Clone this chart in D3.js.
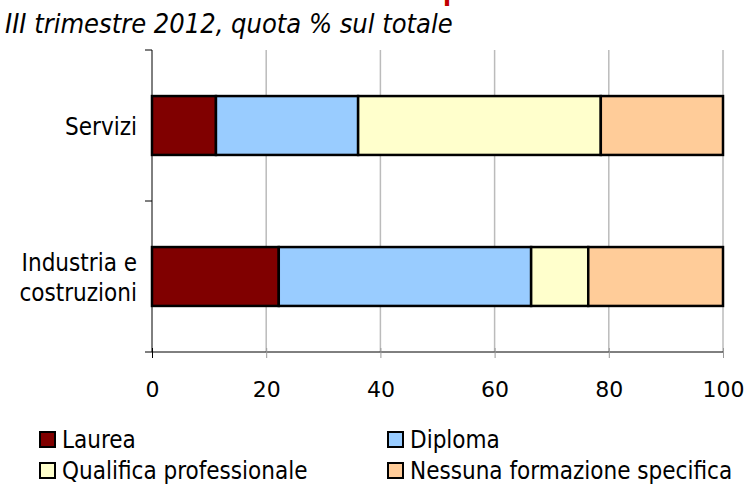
<!DOCTYPE html>
<meta charset="utf-8">
<style>
    body { margin: 0; background: #fff; }
    text { font-family: "DejaVu Sans Condensed", "DejaVu Sans", sans-serif; fill: #000; }
    .axis text { font-size: 24px; }
    .x.axis text { font-family: "DejaVu Sans", sans-serif; font-size: 22px; }
    .grid line { stroke: #bbb; stroke-width: 1.5px; }
    .legend text { font-size: 24px; }
</style>
<body>
<svg></svg>

<script src="https://d3js.org/d3.v7.min.js"></script>
<script type='text/javascript'>

    var categories = ['Servizi', 'Industria e costruzioni'];
    var series = ['Laurea', 'Diploma', 'Qualifica professionale', 'Nessuna formazione specifica'];
    var colors = ['#800000', '#99ccff', '#ffffcc', '#ffcc99'];
    var values = {
        'Servizi': [11.2, 24.9, 42.5, 21.4],
        'Industria e costruzioni': [22.2, 44.2, 10.0, 23.6]
    };
    var xTicks = [0, 20, 40, 60, 80, 100];

    var width = 744, height = 488;
    var margin = {top: 50, left: 152, right: 21, bottom: 136};
    var w = width - margin.left - margin.right,
        h = height - margin.top - margin.bottom;

    var svg = d3.select('svg')
        .attr('width', width)
        .attr('height', height);

    // title cut off at the top, only a descender shows
    svg.append('text')
        .attr('x', 443)
        .attr('y', 0)
        .style('fill', '#c00000')
        .attr('font-size', '26px')
        .attr('font-weight', 'bold')
        .text('p');

    svg.append('text')
        .attr('x', 5)
        .attr('y', 33)
        .attr('font-size', '27px')
        .attr('font-style', 'italic')
        .text('III trimestre 2012, quota % sul totale');

    var g = svg.append('g')
        .attr('transform', 'translate(' + margin.left + ',' + margin.top + ')');

    var x = d3.scaleLinear().domain([0, 100]).range([0, w]);
    var y = d3.scaleBand().domain(categories).range([0, h]);
    var barH = y.bandwidth() * 0.39;

    g.append('g')
        .attr('class', 'grid')
        .selectAll('line')
        .data(xTicks.slice(1))
        .enter().append('line')
        .attr('x1', function(d) { return x(d); })
        .attr('x2', function(d) { return x(d); })
        .attr('y1', 0)
        .attr('y2', h);

    var stacked = [];
    categories.forEach(function(c) {
        var acc = 0;
        values[c].forEach(function(v, i) {
            stacked.push({cat: c, i: i, x0: acc, x1: acc + v});
            acc += v;
        });
    });

    g.append('g')
        .selectAll('rect')
        .data(stacked)
        .enter().append('rect')
        .attr('x', function(d) { return x(d.x0); })
        .attr('width', function(d) { return x(d.x1) - x(d.x0); })
        .attr('y', function(d) { return y(d.cat) + (y.bandwidth() - barH) / 2; })
        .attr('height', barH)
        .attr('fill', function(d) { return colors[d.i]; })
        .attr('stroke', '#000')
        .attr('stroke-width', 2.5);

    var xAxis = d3.axisBottom(x).tickValues(xTicks).tickSize(6).tickPadding(23);
    var gx = g.append('g')
        .attr('class', 'x axis')
        .attr('transform', 'translate(0,' + h + ')')
        .call(xAxis);
    gx.select('.domain').attr('d', 'M-7,0H' + w);
    gx.selectAll('.tick line').attr('y1', -4).attr('y2', 6);
    gx.selectAll('.tick').filter(function(d) { return d > 0; }).select('line').attr('stroke', '#999');

    // y axis: ticks at category boundaries
    var gy = g.append('g').attr('class', 'y axis');
    gy.append('line')
        .attr('x1', 0).attr('x2', 0)
        .attr('y1', 0).attr('y2', h)
        .attr('stroke', '#000');
    gy.selectAll('line.tk')
        .data([0, 1])
        .enter().append('line')
        .attr('class', 'tk')
        .attr('x1', -7).attr('x2', 0)
        .attr('y1', function(d) { return y(categories[d]); })
        .attr('y2', function(d) { return y(categories[d]); })
        .attr('stroke', '#000');

    var labelLines = {'Servizi': ['Servizi'], 'Industria e costruzioni': ['Industria e', 'costruzioni']};
    gy.selectAll('text')
        .data(categories)
        .enter().append('text')
        .attr('text-anchor', 'end')
        .attr('transform', function(d) {
            return 'translate(-15,' + (y(d) + y.bandwidth() / 2) + ')';
        })
        .each(function(d) {
            var lines = labelLines[d];
            var t = d3.select(this);
            lines.forEach(function(l, k) {
                t.append('tspan')
                    .attr('x', 0)
                    .attr('dy', k === 0 ? (9 - (lines.length - 1) * 15) + 'px' : '30px')
                    .text(l);
            });
        });

    // legend
    var legend = svg.append('g').attr('class', 'legend');
    var legPos = [[40, 432], [388, 432], [40, 463], [388, 463]];
    var items = legend.selectAll('g')
        .data(series)
        .enter().append('g')
        .attr('transform', function(d, i) { return 'translate(' + legPos[i][0] + ',' + legPos[i][1] + ')'; });
    items.append('rect')
        .attr('width', 15).attr('height', 15)
        .attr('fill', function(d, i) { return colors[i]; })
        .attr('stroke', '#000')
        .attr('stroke-width', 2);
    items.append('text')
        .attr('x', 22)
        .attr('y', 16)
        .text(function(d) { return d; });

</script>
